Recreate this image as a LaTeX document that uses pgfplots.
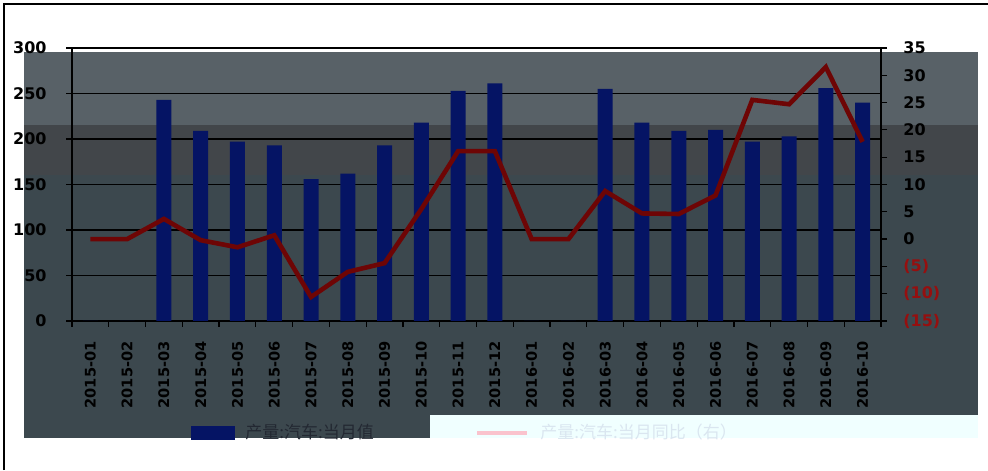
\documentclass[border=0pt]{standalone}
\usepackage{pgfplots}
\pgfplotsset{compat=1.18}
\usepackage{pgfplotstable}
\usepackage{fontspec}
\setmainfont{DejaVu Sans}
\newfontfamily\cjk{Noto Sans CJK SC}
\definecolor{bgA}{RGB}{88,97,103}
\definecolor{bgB}{RGB}{66,70,74}
\definecolor{bgC}{RGB}{60,72,78}
\definecolor{bgD}{RGB}{240,255,255}
\definecolor{barblue}{RGB}{5,20,100}
\definecolor{linered}{RGB}{110,5,5}
\definecolor{negred}{RGB}{150,15,15}
\definecolor{legtxt}{RGB}{218,230,240}
\definecolor{legdark}{RGB}{35,40,50}
\definecolor{legpink}{RGB}{250,195,205}

\pgfplotstableread{
x bar yoy
0 0 0
1 0 0
2 243 3.7
3 209 -0.2
4 197 -1.5
5 193 0.7
6 156 -10.6
7 162 -6.0
8 193 -4.4
9 218 5.5
10 253 16.1
11 261 16.1
12 0 0
13 0 0
14 255 8.8
15 218 4.7
16 209 4.6
17 210 8.0
18 197 25.5
19 203 24.7
20 256 31.5
21 240 17.8
}\data

\begin{document}
\begin{tikzpicture}[x=1pt,y=1pt]
\path[use as bounding box] (0,0) rectangle (494,235);
\fill[white] (0,0) rectangle (494,235);
\fill[bgA] (12,172.5) rectangle (489,209);
\fill[bgB] (12,147.5) rectangle (489,172.5);
\fill[bgC] (12,27.5) rectangle (489,147.5);
\fill[bgC] (12,16) rectangle (215,27.5);
\fill[bgD] (215,16) rectangle (489,27.5);
\draw[black,line width=1pt] (2,0) -- (2,233) -- (494,233);

\pgfplotsset{common/.style={
  at={(36pt,74.5pt)}, anchor=south west, scale only axis,
  width=404.5pt, height=136.5pt,
  xmin=-0.5, xmax=21.5,
  axis line style={black, line width=0.6pt},
  tick style={black, line width=0.6pt},
  tick align=outside,
  major tick length=3pt,
}}

\begin{axis}[common,
  ymin=0, ymax=300,
  ytick={0,50,...,300},
  yticklabels={0,50,100,150,200,250,300},
  axis x line*=bottom, axis y line*=left,
  ymajorgrids=true,
  grid style={black, line width=0.6pt},
  xtick={0,...,21},
  xticklabels={2015-01,2015-02,2015-03,2015-04,2015-05,2015-06,2015-07,2015-08,2015-09,2015-10,2015-11,2015-12,2016-01,2016-02,2016-03,2016-04,2016-05,2016-06,2016-07,2016-08,2016-09,2016-10},
  major x tick style={draw=none},
  minor xtick={-0.5,0.5,...,21.5},
  minor tick length=3pt,
  minor x tick style={black, line width=0.6pt},
  x tick label style={rotate=90, anchor=east, inner sep=0pt, font=\fontsize{7.3}{8}\selectfont\bfseries},
  xticklabel shift=7pt,
  y tick label style={inner sep=0pt, font=\fontsize{8}{9}\selectfont\bfseries},
  yticklabel shift=9.5pt,
  clip=false,
]
\addplot[ybar, bar width=7.5pt, fill=barblue, draw=none] table[x=x,y=bar]{\data};
\end{axis}

\begin{axis}[common,
  ymin=-15, ymax=35,
  ytick={-15,-10,...,35},
  yticklabels={\textcolor{negred}{(15)},\textcolor{negred}{(10)},\textcolor{negred}{(5)},0,5,10,15,20,25,30,35},
  axis y line*=right, axis x line=none,
  y tick label style={inner sep=0pt, anchor=west, font=\fontsize{8}{9}\selectfont\bfseries},
  yticklabel shift=8pt,
  legend columns=2,
  legend style={at={(0.146,-0.41)}, anchor=west, draw=none, fill=none,
    inner sep=0pt, font=\cjk\fontsize{8.5}{9}\selectfont,
    /tikz/every odd column/.append style={column sep=3.5pt},
    /tikz/every even column/.append style={column sep=48.5pt}},
  clip=false,
]
\addlegendimage{legend image code/.code={\fill[barblue] (0pt,-3.25pt) rectangle (21.5pt,3.25pt);}}
\addlegendentry{\textcolor{legdark}{产量:汽车:当月值}}
\addplot[linered, line width=2.3pt, mark=none,
  legend image code/.code={\draw[legpink, line width=2.3pt] (0pt,0pt) -- (25pt,0pt);}] table[x=x,y=yoy]{\data};
\addlegendentry{\textcolor{legtxt}{产量:汽车:当月同比（右）}}
\end{axis}
\end{tikzpicture}
\end{document}
